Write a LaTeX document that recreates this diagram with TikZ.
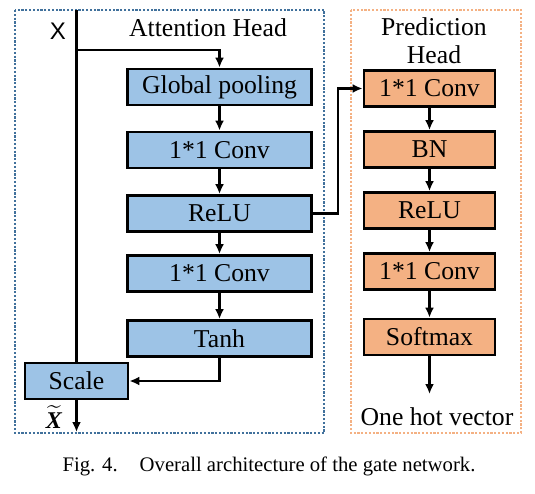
\documentclass[tikz,border=0pt]{standalone}
\usepackage{fontspec}
\usepackage{amsmath}
\setmainfont{Liberation Serif}
\newfontfamily\labelsans{Liberation Sans}
\usetikzlibrary{arrows.meta}

\definecolor{attnfill}{HTML}{9DC3E6}
\definecolor{attnline}{HTML}{41719C}
\definecolor{predfill}{HTML}{F4B183}
\definecolor{predline}{HTML}{F4B183}

\tikzset{
	layer/.style = {draw, line width=2.8pt, minimum height=36pt, inner sep=0pt,
		font=\fontsize{25.7}{29}\selectfont},
	attnlayer/.style = {layer, fill=attnfill, minimum width=184pt},
	predlayer/.style = {layer, fill=predfill, minimum width=131pt},
	flow/.style = {line width=2.2pt, -{Latex[length=10pt,width=9pt]}},
	headframe/.style = {line width=2.2pt, dash pattern=on 2.2pt off 1.6pt},
	headtitle/.style = {font=\fontsize{25.7}{30}\selectfont, align=center}
}

\begin{document}
\begin{tikzpicture}[x=1pt, y=-1pt]
	\useasboundingbox (0,0) rectangle (535,494);

	% dotted frames of the two heads
	\draw [headframe, attnline] (15,10) rectangle (324,433);
	\draw [headframe, predline] (351,10) rectangle (521,433);

	\node [headtitle] (attntitle) at (208,28) {Attention Head};
	\node [headtitle] (predtitle) at (434,41) {Prediction\\[-2pt]Head};

	% attention head
	\node [attnlayer] (gpool)  at (219.5,87)    {Global pooling};
	\node [attnlayer] (aconv1) at (219.5,150)   {1*1 Conv};
	\node [attnlayer] (arelu)  at (219.5,213.5) {ReLU};
	\node [attnlayer] (aconv2) at (219.5,273.5) {1*1 Conv};
	\node [attnlayer] (tanh)   at (219.5,338.5) {Tanh};
	\node [layer, fill=attnfill, minimum width=103pt] (scale) at (76.5,381) {Scale};

	% prediction head
	\node [predlayer] (pconv1)  at (429.5,88.5)  {1*1 Conv};
	\node [predlayer] (bn)      at (429.5,149.5) {BN};
	\node [predlayer] (prelu)   at (429.5,210.5) {ReLU};
	\node [predlayer] (pconv2)  at (429.5,271.5) {1*1 Conv};
	\node [predlayer] (softmax) at (429.5,337)   {Softmax};

	\coordinate (xin) at (76.5,10);
	\coordinate (xout) at (76.5,432);
	\coordinate (onehot) at (429.5,394);

	\node [font=\labelsans\fontsize{24}{28}\selectfont] (xlabel) at (58,31) {X};
	\node [font=\fontsize{24}{28}\selectfont, inner sep=0pt] (xtilde) at (54,417)
		{$\widetilde{\text{\bfseries\itshape X}}$};
	\node [headtitle] (onehotlabel) at (437,417) {One hot vector};

	% connections
	\draw [line width=2.2pt] (xin) -- (scale.north);
	\draw [flow] (xin |- 0,50) -| (gpool.north);
	\draw [flow] (gpool) -- (aconv1);
	\draw [flow] (aconv1) -- (arelu);
	\draw [flow] (arelu) -- (aconv2);
	\draw [flow] (aconv2) -- (tanh);
	\draw [flow] (tanh.south) |- (scale.east);
	\draw [flow] (scale.south) -- (xout);
	\draw [flow] (arelu.east) -- (338,213.5) |- (pconv1.west);
	\draw [flow] (pconv1) -- (bn);
	\draw [flow] (bn) -- (prelu);
	\draw [flow] (prelu) -- (pconv2);
	\draw [flow] (pconv2) -- (softmax);
	\draw [flow] (softmax.south) -- (onehot);

	\node [anchor=west, font=\fontsize{20.7}{24}\selectfont] (caption) at (59,466)
		{Fig. 4.\hspace{22pt}Overall architecture of the gate network.};

\end{tikzpicture}
\end{document}
